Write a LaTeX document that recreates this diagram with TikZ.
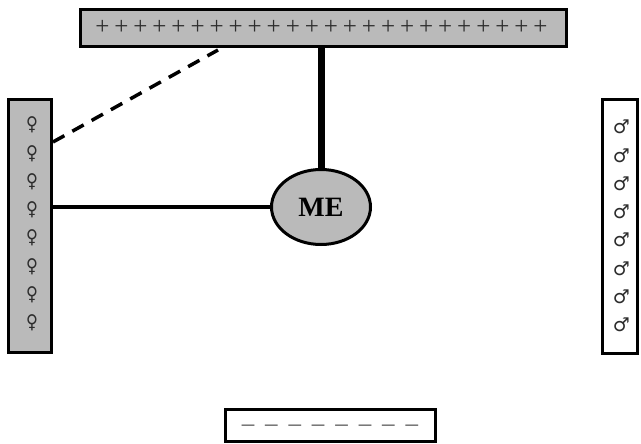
\documentclass[tikz,border=0pt]{standalone}
\usepackage{fontspec}
\setmainfont{Liberation Serif}
\newfontfamily\symfont{DejaVu Sans}
\usetikzlibrary{calc,shapes.geometric}
\definecolor{panelgray}{RGB}{186,186,186}
\definecolor{inkgray}{RGB}{45,45,45}
\begin{document}
\begin{tikzpicture}[x=1pt,y=-1pt,
  panel/.style={draw=black, line width=3pt, inner sep=0pt, rectangle},
  plusmark/.style={inner sep=0pt, text=inkgray, font=\fontsize{25}{25}\selectfont},
  sexmark/.style={inner sep=0pt, text=inkgray, font=\symfont\fontsize{19}{19}\selectfont},
  minusmark/.style={inner sep=0pt, text=inkgray!80, font=\fontsize{25}{25}\selectfont},
  link/.style={draw=black, line cap=butt},
]
\useasboundingbox (0,0) rectangle (641,444);

% panels
\node[panel, fill=panelgray, minimum width=486pt, minimum height=37pt] (top) at (323.5,28) {};
\node[panel, fill=panelgray, minimum width=43pt, minimum height=253pt] (female) at (30,226) {};
\node[panel, fill=white, minimum width=35pt, minimum height=253pt] (male) at (620,226.5) {};
\node[panel, line width=2.5pt, fill=white, minimum width=210pt, minimum height=32pt] (bottom) at (330.5,425.5) {};
\node[draw=black, line width=3pt, fill=panelgray, ellipse, inner sep=0pt,
      minimum width=99pt, minimum height=75pt,
      font=\bfseries\fontsize{28}{28}\selectfont] (me) at (321,207) {ME};

% row of plus signs
\foreach \k in {1,...,24}
  \node[plusmark] (plus\k) at ({102.3+(\k-1)*19.05},27) {+};

% female and male columns
\foreach \k in {1,...,8} {
  \node[sexmark] (fem\k) at (32,{125+(\k-1)*28.3}) {\scalebox{0.85}[1]{♀}};
  \node[sexmark] (mal\k) at (621.5,{127+(\k-1)*28.3}) {♂};
}

% row of minus signs
\foreach \k in {1,...,8}
  \node[minusmark] (minus\k) at ({248+(\k-1)*23.4},428) {–};

% connectors
\coordinate (dashstart) at ($(female.north east)+(0,44)$);
\coordinate (dashend) at (218,50);
\draw[link, line width=7pt] (me.north) -- (me.north |- top.south);
\draw[link, line width=4pt] (me.west) -- (me.west -| female.east);
\draw[link, line width=3.5pt, dash pattern=on 13pt off 9.1pt] (dashstart) -- (dashend);
\end{tikzpicture}
\end{document}
